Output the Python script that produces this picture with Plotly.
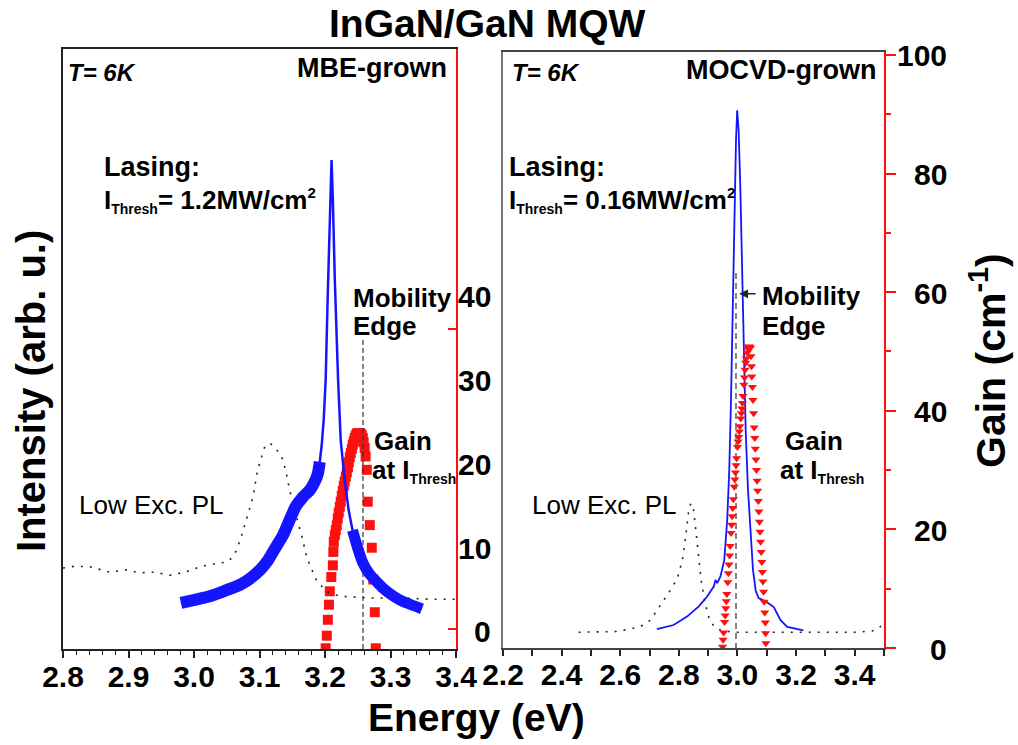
import plotly.graph_objects as go

W, H = 1018, 745
FONT = "Liberation Sans"

# ---------------- MBE-grown MQW (left panel) ----------------
# low-excitation photoluminescence
mbe_pl_energy = [2.800, 2.818, 2.841, 2.872, 2.895, 2.917, 2.940, 2.963, 2.986, 3.009,
                 3.032, 3.050, 3.059, 3.065, 3.073, 3.081, 3.090, 3.097, 3.104, 3.108,
                 3.116, 3.123, 3.134, 3.140, 3.146, 3.152, 3.159, 3.166, 3.172, 3.180,
                 3.187, 3.197, 3.207, 3.223, 3.238, 3.268, 3.314, 3.360, 3.398]
mbe_pl_intensity = [13.5, 13.8, 13.7, 12.8, 13.2, 12.7, 12.8, 12.3, 12.8, 13.7,
                    14.2, 14.5, 15.3, 16.5, 19.0, 22.0, 25.3, 29.8, 32.3, 33.7,
                    34.3, 33.7, 32.0, 29.8, 26.5, 23.8, 21.0, 18.2, 15.3, 13.2,
                    11.5, 10.2, 9.3, 8.8, 8.7, 8.5, 8.5, 8.3, 8.3]

# lasing spectrum at threshold
mbe_las_energy = [2.980, 3.001, 3.024, 3.047, 3.070, 3.085, 3.101, 3.113, 3.125, 3.136,
                  3.146, 3.155, 3.166, 3.177, 3.184, 3.189, 3.192, 3.195, 3.198, 3.201,
                  3.204, 3.207, 3.210, 3.212, 3.215, 3.220, 3.224, 3.230, 3.236, 3.242,
                  3.250, 3.258, 3.268, 3.279, 3.288, 3.302, 3.314, 3.329, 3.348]
mbe_las_intensity = [7.7, 8.2, 8.8, 9.7, 10.7, 11.7, 13.2, 14.8, 17.0, 19.0,
                     21.5, 23.7, 25.3, 26.5, 27.8, 29.2, 31.2, 34.0, 38.2, 44.8,
                     58.2, 71.5, 81.5, 74.8, 61.5, 44.8, 34.8, 28.2, 23.2, 19.8,
                     16.8, 14.3, 12.5, 11.2, 10.2, 9.0, 8.2, 7.5, 6.7]

# gain spectrum at I_Thresh (cm^-1)
mbe_gain_energy = [3.2010, 3.2028, 3.2043, 3.2060, 3.2073, 3.2096, 3.2120, 3.2127,
                   3.2134, 3.2150, 3.2165, 3.2180, 3.2195, 3.2210, 3.2226, 3.2240,
                   3.2256, 3.2270, 3.2287, 3.2300, 3.2318, 3.2333, 3.2350, 3.2363,
                   3.2378, 3.2393, 3.2410, 3.2424, 3.2440, 3.2455, 3.2470, 3.2485,
                   3.2500, 3.2515, 3.2530, 3.2547, 3.2562, 3.2577, 3.2590, 3.2605,
                   3.2620, 3.2638, 3.2653, 3.2684, 3.2714, 3.2737, 3.2760, 3.2775]
mbe_gain = [-2.3, -0.8, 1.1, 2.9, 4.5, 6.2, 7.6, 9.2,
            10.4, 11.2, 11.8, 12.4, 13.2, 13.9, 14.6, 15.2,
            15.9, 16.5, 17.1, 17.6, 18.2, 18.7, 19.3, 19.9,
            20.5, 21.0, 21.5, 22.0, 22.4, 22.8, 23.1, 23.3,
            23.4, 23.4, 23.4, 23.3, 23.1, 22.8, 22.3, 21.6,
            20.6, 19.0, 15.2, 12.4, 9.7, 5.9, 2.0, -2.3]
mbe_mobility_edge = 3.258
mbe_edge_top = 52

# ---------------- MOCVD-grown MQW (right panel) ----------------
mocvd_pl_energy = [2.458, 2.520, 2.580, 2.620, 2.668, 2.703, 2.737, 2.771, 2.795, 2.812,
                   2.824, 2.833, 2.841, 2.850, 2.858, 2.866, 2.876, 2.889, 2.905, 2.925,
                   2.950, 3.000, 3.100, 3.200, 3.300, 3.400, 3.460, 3.490]
mocvd_pl_intensity = [2.8, 2.8, 2.9, 3.2, 3.7, 4.8, 7.2, 9.8, 11.8, 14.8,
                      19.0, 22.8, 24.3, 23.2, 19.8, 15.5, 11.5, 7.7, 4.8, 3.5,
                      3.0, 2.8, 2.8, 2.8, 2.8, 2.8, 3.0, 3.8]

mocvd_las_energy = [2.725, 2.782, 2.828, 2.868, 2.896, 2.919, 2.925, 2.931, 2.942, 2.955,
                    2.965, 2.972, 2.978, 2.984, 2.990, 2.995, 2.999, 3.004, 3.010, 3.016,
                    3.022, 3.028, 3.036, 3.045, 3.053, 3.062, 3.072, 3.085, 3.101, 3.124,
                    3.147, 3.170, 3.204, 3.225]
mocvd_las_intensity = [3.3, 4.0, 5.4, 7.1, 8.7, 10.4, 11.5, 11.0, 12.1, 14.8,
                       21.5, 29.8, 41.5, 58.2, 74.8, 84.8, 89.8, 86.5, 76.5, 61.5,
                       48.2, 36.5, 26.5, 18.2, 13.2, 9.8, 8.5, 8.2, 7.8, 7.0,
                       4.8, 3.7, 3.3, 3.1]

mocvd_gain_energy = [2.949, 2.951, 2.953, 2.956, 2.958, 2.960, 2.962, 2.964, 2.967, 2.969,
                     2.971, 2.973, 2.975, 2.978, 2.980, 2.982, 2.984, 2.986, 2.989, 2.991,
                     2.993, 2.995, 2.997, 3.000, 3.002, 3.004, 3.006, 3.008, 3.011, 3.013,
                     3.015, 3.017, 3.019, 3.022, 3.024, 3.026, 3.028, 3.030, 3.033, 3.035,
                     3.037, 3.040, 3.042,
                     3.044, 3.046, 3.048, 3.049, 3.051, 3.053, 3.055, 3.057, 3.059, 3.061,
                     3.063, 3.065, 3.067, 3.069, 3.071, 3.073, 3.075, 3.077, 3.079, 3.081,
                     3.083, 3.085, 3.087, 3.089, 3.091, 3.093, 3.095, 3.096, 3.097]
mocvd_gain = [0.2, 1.4, 2.6, 4.4, 5.5, 6.7, 7.9, 9.1, 11.1, 12.6,
              14.1, 15.6, 17.2, 19.4, 20.8, 22.2, 23.6, 25.1, 27.2, 28.4,
              29.6, 30.8, 32.0, 33.9, 34.8, 35.6, 36.5, 37.4, 38.7, 39.6,
              40.4, 41.3, 42.5, 44.4, 45.6, 46.9, 48.1, 48.8, 49.8, 50.5,
              50.8, 50.8, 50.8,
              50.6, 49.2, 47.5, 45.8, 44.0, 41.8, 39.6, 37.2, 35.4, 33.6,
              31.8, 30.0, 28.2, 26.5, 24.8, 23.0, 21.3, 19.6, 17.9, 16.2,
              14.5, 12.8, 11.2, 9.5, 7.8, 6.0, 4.3, 2.5, 0.8]
mocvd_mobility_edge = 2.995
mocvd_edge_top = 63

# tick labels
mbe_energy_ticks = [2.8, 2.9, 3.0, 3.1, 3.2, 3.3, 3.4]
mocvd_energy_ticks = [2.2, 2.4, 2.6, 2.8, 3.0, 3.2, 3.4]
mbe_gain_ticks = [0, 10, 20, 30, 40]
mocvd_gain_ticks = [0, 20, 40, 60, 80, 100]


def fx(p):
    return p / W


def fy(p):
    return 1 - p / H


BLUE = "#1414ff"
RED = "#ff1010"

fig = go.Figure()

# left panel: gain on base axis (y), intensity on overlay (y3) so spectra sit on top
fig.add_trace(go.Scatter(x=mbe_gain_energy, y=mbe_gain, mode="markers",
                         marker=dict(symbol="square", size=10, color=RED),
                         xaxis="x", yaxis="y", showlegend=False))
fig.add_trace(go.Scatter(x=mbe_pl_energy, y=mbe_pl_intensity, mode="lines",
                         line=dict(color="#222", width=1.6, dash="2px,7px"),
                         xaxis="x", yaxis="y3", showlegend=False))
fig.add_trace(go.Scatter(x=[mbe_mobility_edge, mbe_mobility_edge], y=[0, mbe_edge_top],
                         mode="lines", line=dict(color="#333", width=1.2, dash="5px,3px"),
                         xaxis="x", yaxis="y3", showlegend=False))
left_wing = [(e, i) for e, i in zip(mbe_las_energy, mbe_las_intensity) if e <= 3.192]
right_wing = [(e, i) for e, i in zip(mbe_las_energy, mbe_las_intensity) if e >= 3.242]
for wing, w in ((left_wing, 12), (right_wing, 11)):
    fig.add_trace(go.Scatter(x=[p[0] for p in wing], y=[p[1] for p in wing], mode="lines",
                             line=dict(color=BLUE, width=w, shape="spline", smoothing=0.6),
                             xaxis="x", yaxis="y3", showlegend=False))
fig.add_trace(go.Scatter(x=mbe_las_energy, y=mbe_las_intensity, mode="lines",
                         line=dict(color=BLUE, width=2.5),
                         xaxis="x", yaxis="y3", showlegend=False))

# right panel: intensity on base axis (y2), gain on overlay (y4)
fig.add_trace(go.Scatter(x=mocvd_pl_energy, y=mocvd_pl_intensity, mode="lines",
                         line=dict(color="#222", width=1.6, dash="2px,7px"),
                         xaxis="x2", yaxis="y2", showlegend=False))
fig.add_trace(go.Scatter(x=[mocvd_mobility_edge, mocvd_mobility_edge], y=[0, mocvd_edge_top],
                         mode="lines", line=dict(color="#333", width=1.2, dash="6px,4px"),
                         xaxis="x2", yaxis="y2", showlegend=False))
fig.add_trace(go.Scatter(x=mocvd_las_energy, y=mocvd_las_intensity, mode="lines",
                         line=dict(color=BLUE, width=1.8),
                         xaxis="x2", yaxis="y2", showlegend=False))
fig.add_trace(go.Scatter(x=mocvd_gain_energy, y=mocvd_gain, mode="markers",
                         marker=dict(symbol="triangle-down", size=8, color=RED),
                         xaxis="x2", yaxis="y4", showlegend=False))

tickfont = dict(family=FONT, size=30, color="black", weight="bold")

fig.update_layout(
    template="none",
    width=W, height=H, autosize=False,
    margin=dict(l=0, r=0, t=0, b=0, pad=0, autoexpand=False),
    paper_bgcolor="white", plot_bgcolor="rgba(0,0,0,0)",
    font=dict(family=FONT, color="black"),
    xaxis=dict(domain=[fx(63), fx(456)], range=[2.8, 3.4], anchor="y", automargin=False,
               showline=True, linecolor="#222", linewidth=2, mirror=True,
               tickvals=mbe_energy_ticks, ticktext=[f"{v:.1f}" for v in mbe_energy_ticks],
               ticks="outside", ticklen=7, tickwidth=1.5, tickcolor="#222",
               ticklabelstandoff=-7,
               minor=dict(dtick=0.02, ticks="outside", ticklen=4, tickcolor="#222", tickwidth=1.2),
               tickfont=tickfont, showgrid=False, zeroline=False),
    yaxis=dict(domain=[fy(649), fy(49)], range=[-2.39, 69.25], anchor="x", side="right",
               automargin=False,
               showline=True, linecolor=RED, linewidth=1.5,
               tickvals=mbe_gain_ticks, ticks="", showticklabels=False,
               minor=dict(tickmode="array", tickvals=[0, 35.8], ticks="inside", ticklen=8,
                          tickcolor=RED, tickwidth=1.5),
               showgrid=False, zeroline=False),
    yaxis3=dict(overlaying="y", anchor="x", side="left", range=[0, 100], automargin=False,
                showline=True, linecolor="#222", linewidth=2,
                showticklabels=False, ticks="", showgrid=False, zeroline=False),
    xaxis2=dict(domain=[fx(503), fx(884)], range=[2.2, 3.5], anchor="y2", automargin=False,
                showline=True, linecolor="#444", linewidth=2, mirror=True,
                tickvals=mocvd_energy_ticks, ticktext=[f"{v:.1f}" for v in mocvd_energy_ticks],
                ticks="outside", ticklen=6, tickwidth=1.5, tickcolor="#222",
                ticklabelstandoff=-7,
                minor=dict(dtick=0.1, ticks="outside", ticklen=6, tickcolor="#222", tickwidth=1.5),
                tickfont=tickfont, showgrid=False, zeroline=False),
    yaxis2=dict(domain=[fy(648), fy(52)], range=[0.17, 99.5], anchor="x2", side="left",
                automargin=False,
                showline=True, linecolor="#777", linewidth=2,
                showticklabels=False, ticks="", showgrid=False, zeroline=False),
    yaxis4=dict(overlaying="y2", anchor="x2", side="right", range=[0, 100.5], automargin=False,
                showline=True, linecolor=RED, linewidth=1.5,
                tickvals=mocvd_gain_ticks, ticks="outside", ticklen=10, tickwidth=1.5,
                tickcolor=RED, showticklabels=False,
                minor=dict(dtick=10, ticks="outside", ticklen=5, tickcolor=RED, tickwidth=1.5),
                showgrid=False, zeroline=False),
)

ann = []


def text(x, y, s, size, xanchor="left", angle=0, color="black"):
    ann.append(dict(x=fx(x), y=fy(y), xref="paper", yref="paper", text=s,
                    showarrow=False, xanchor=xanchor, yanchor="middle", textangle=angle,
                    font=dict(family=FONT, size=size, color=color)))


# gain-axis numbers, right-aligned next to each red axis
for v in mbe_gain_ticks:
    ann.append(dict(x=fx(493), y=v, xref="paper", yref="y", text=f"<b>{v}</b>",
                    showarrow=False, xanchor="right", yanchor="middle", yshift=-3,
                    font=dict(family=FONT, size=30, color="black")))
for v in mocvd_gain_ticks:
    ann.append(dict(x=fx(949), y=v, xref="paper", yref="y4", text=f"<b>{v}</b>",
                    showarrow=False, xanchor="right", yanchor="middle", yshift=-1,
                    font=dict(family=FONT, size=30, color="black")))

SUB = '<sub><span style="font-size:14px">Thresh</span></sub>'
SUP2 = '<sup><span style="font-size:15px">2</span></sup>'

text(487, 24, "<b>InGaN/GaN MQW</b>", 39, "center")
text(476, 717, "<b>Energy (eV)</b>", 39, "center")
text(31, 391, "<b>Intensity (arb. u.)</b>", 40, "center", angle=-90)
text(988, 361, "<b>Gain (cm<sup>-1</sup>)</b>", 41, "center", angle=-90)

# left panel labels
text(66, 72, "<b><i>T</i></b><b><i>= 6K</i></b>", 24)
text(449, 68, "<b>MBE-grown</b>", 27, "right")
text(102, 167, "<b>Lasing:</b>", 27)
text(102, 200, "<b>I" + SUB + "= 1.2MW/cm" + SUP2 + "</b>", 26)
text(351, 298, "<b>Mobility</b>", 26)
text(351, 326, "<b>Edge</b>", 26)
text(372, 441, "<b>Gain</b>", 26)
text(370, 471, "<b>at I" + SUB + "</b>", 26)
text(77, 505, "Low Exc. PL", 26)

# right panel labels
text(510, 72, "<b><i>T</i></b><b><i>= 6K</i></b>", 24)
text(878, 70, "<b>MOCVD-grown</b>", 27, "right")
text(507, 167, "<b>Lasing:</b>", 27)
text(507, 200, "<b>I" + SUB + "= 0.16MW/cm" + SUP2 + "</b>", 26)
text(760, 296, "<b>Mobility</b>", 26)
text(760, 326, "<b>Edge</b>", 26)
text(783, 441, "<b>Gain</b>", 26)
text(778, 471, "<b>at I" + SUB + "</b>", 26)
text(530, 505, "Low Exc. PL", 26)

# arrow pointing at the mobility edge
ann.append(dict(x=3.006, y=59.2, xref="x2", yref="y2", ax=3.067, ay=59.2,
                axref="x2", ayref="y2", text="", showarrow=True,
                arrowhead=2, arrowsize=1.1, arrowwidth=1.6, arrowcolor="#222"))

fig.update_layout(annotations=ann)
fig.write_html("out.html")
